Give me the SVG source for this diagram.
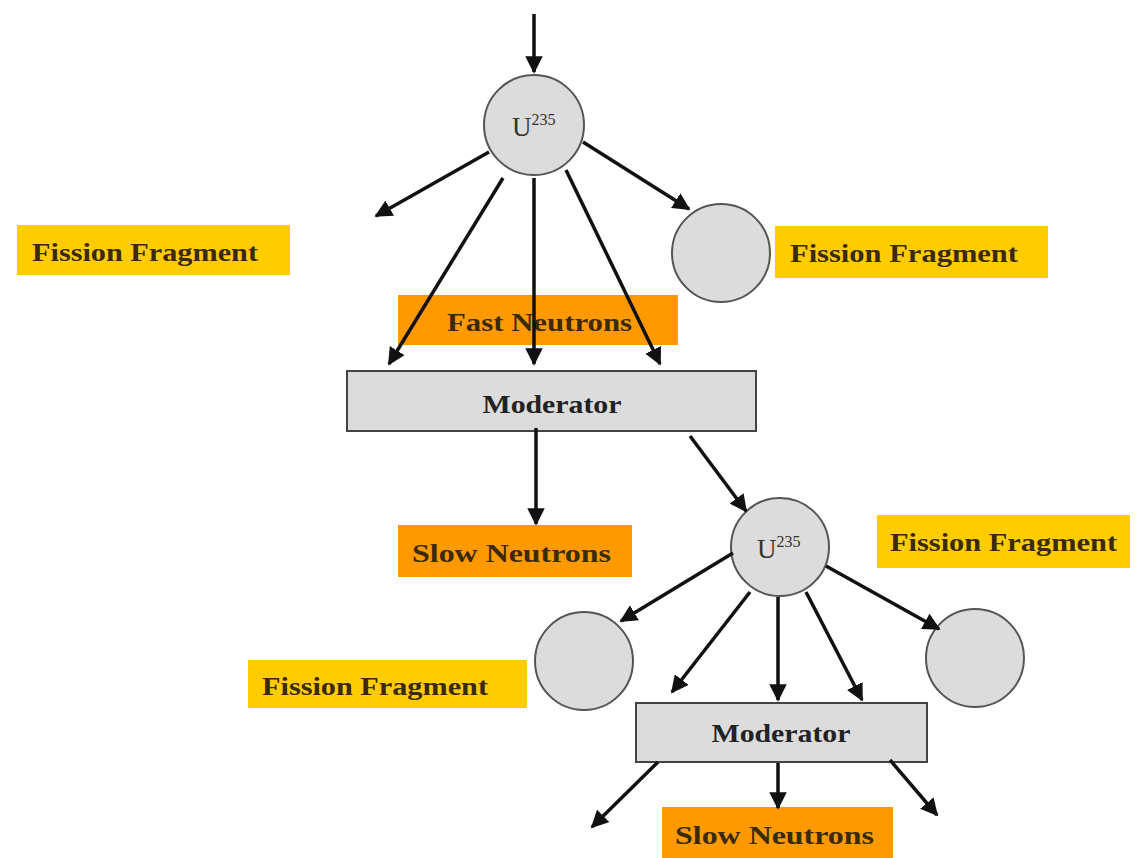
<svg xmlns="http://www.w3.org/2000/svg" width="1141" height="858" viewBox="0 0 1141 858">
<defs>
<style>
.lbl{font-family:"Liberation Serif","DejaVu Serif",serif;font-weight:bold;font-size:25px;fill:#3a2a08}
.yel{fill:#ffcc00}
.org{fill:#ff9900}
.atom{fill:#dcdcdc;stroke:#555;stroke-width:2}
.mod{fill:#dcdcdc;stroke:#444;stroke-width:2}
.modt{font-family:"Liberation Serif","DejaVu Serif",serif;font-weight:bold;font-size:26px;fill:#222}
.ut{font-family:"Liberation Serif","DejaVu Serif",serif;font-size:27px;fill:#333}
.ar{stroke:#111;stroke-width:3.5;fill:none;marker-end:url(#ah)}
</style>
<marker id="ah" viewBox="0 0 10 10" refX="9" refY="5" markerWidth="5" markerHeight="5" orient="auto" markerUnits="strokeWidth">
<path d="M0,0 L10,5 L0,10 Z" fill="#111"/>
</marker>
</defs>
<rect width="1141" height="858" fill="#fff"/>

<g id="ff1"><rect class="yel" x="17" y="225" width="273" height="50"/><text class="lbl" x="32" y="261" textLength="226" lengthAdjust="spacingAndGlyphs">Fission Fragment</text></g>
<g id="ff2"><rect class="yel" x="775" y="226" width="273" height="52"/><text class="lbl" x="790" y="262" textLength="228" lengthAdjust="spacingAndGlyphs">Fission Fragment</text></g>
<g id="fast"><rect class="org" x="398" y="295" width="280" height="50"/><text class="lbl" x="447" y="331" textLength="185" lengthAdjust="spacingAndGlyphs">Fast Neutrons</text></g>
<g id="ff3"><rect class="yel" x="877" y="515" width="253" height="53"/><text class="lbl" x="890" y="551" textLength="227" lengthAdjust="spacingAndGlyphs">Fission Fragment</text></g>
<g id="slow1"><rect class="org" x="398" y="525" width="234" height="52"/><text class="lbl" x="412" y="562" textLength="199" lengthAdjust="spacingAndGlyphs">Slow Neutrons</text></g>
<g id="ff4"><rect class="yel" x="248" y="660" width="279" height="48"/><text class="lbl" x="262" y="695" textLength="226" lengthAdjust="spacingAndGlyphs">Fission Fragment</text></g>
<g id="slow2"><rect class="org" x="662" y="807" width="231" height="51"/><text class="lbl" x="675" y="844" textLength="199" lengthAdjust="spacingAndGlyphs">Slow Neutrons</text></g>

<g id="u1"><circle class="atom" cx="534" cy="125" r="50"/><text class="ut" x="512" y="136">U<tspan font-size="16" dy="-11">235</tspan></text></g>
<g id="frag1"><circle class="atom" cx="721" cy="253" r="49"/></g>
<g id="mod1"><rect class="mod" x="347" y="371" width="409" height="60"/><text class="modt" x="552" y="413" text-anchor="middle" textLength="139" lengthAdjust="spacingAndGlyphs">Moderator</text></g>
<g id="u2"><circle class="atom" cx="780" cy="547" r="49"/><text class="ut" x="757" y="558">U<tspan font-size="16" dy="-11">235</tspan></text></g>
<g id="frag2"><circle class="atom" cx="584" cy="661" r="49"/></g>
<g id="frag3"><circle class="atom" cx="975" cy="658" r="49"/></g>
<g id="mod2"><rect class="mod" x="636" y="703" width="291" height="59"/><text class="modt" x="781" y="742" text-anchor="middle" textLength="139" lengthAdjust="spacingAndGlyphs">Moderator</text></g>

<g id="connectors">
<line class="ar" x1="534" y1="14" x2="534" y2="72"/>
<line class="ar" x1="489" y1="152" x2="376" y2="216"/>
<line class="ar" x1="503" y1="178" x2="389" y2="364"/>
<line class="ar" x1="534" y1="178" x2="534" y2="364"/>
<line class="ar" x1="566" y1="170" x2="660" y2="364"/>
<line class="ar" x1="583" y1="142" x2="689" y2="209"/>
<line class="ar" x1="536" y1="428" x2="536" y2="524"/>
<line class="ar" x1="690" y1="436" x2="746" y2="511"/>
<line class="ar" x1="733" y1="553" x2="621" y2="621"/>
<line class="ar" x1="750" y1="592" x2="672" y2="692"/>
<line class="ar" x1="778" y1="597" x2="778" y2="700"/>
<line class="ar" x1="806" y1="592" x2="862" y2="700"/>
<line class="ar" x1="826" y1="566" x2="939" y2="629"/>
<line class="ar" x1="658" y1="762" x2="592" y2="827"/>
<line class="ar" x1="778" y1="763" x2="778" y2="808"/>
<line class="ar" x1="890" y1="760" x2="937" y2="815"/>
</g>
</svg>
